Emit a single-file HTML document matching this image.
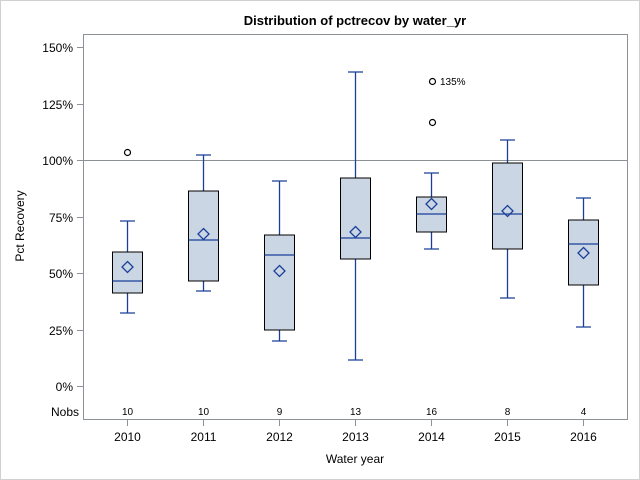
<!DOCTYPE html>
<html><head><meta charset="utf-8"><style>
html,body{margin:0;padding:0;background:#fff}
svg{display:block;font-family:"Liberation Sans",Arial,sans-serif}
</style></head><body>
<svg width="640" height="480" viewBox="0 0 640 480" xmlns="http://www.w3.org/2000/svg">
<rect x="0.5" y="0.5" width="639" height="479" fill="#fff" stroke="#d0d0d0"/>
<text x="355" y="25" font-size="13" font-weight="bold" text-anchor="middle">Distribution of pctrecov by water_yr</text>
<rect x="83.5" y="34.5" width="544" height="385" fill="none" stroke="#8c9196"/>
<line x1="84" y1="160.5" x2="627" y2="160.5" stroke="#8c9196"/>
<g stroke="#8c9196">
<line x1="77" y1="47.5" x2="83" y2="47.5"/><line x1="77" y1="104.5" x2="83" y2="104.5"/>
<line x1="77" y1="160.5" x2="83" y2="160.5"/><line x1="77" y1="217.5" x2="83" y2="217.5"/>
<line x1="77" y1="273.5" x2="83" y2="273.5"/><line x1="77" y1="330.5" x2="83" y2="330.5"/>
<line x1="77" y1="386.5" x2="83" y2="386.5"/>
<line x1="127.5" y1="420" x2="127.5" y2="426"/><line x1="203.5" y1="420" x2="203.5" y2="426"/>
<line x1="279.5" y1="420" x2="279.5" y2="426"/><line x1="355.5" y1="420" x2="355.5" y2="426"/>
<line x1="431.5" y1="420" x2="431.5" y2="426"/><line x1="507.5" y1="420" x2="507.5" y2="426"/>
<line x1="583.5" y1="420" x2="583.5" y2="426"/>
</g>
<g font-size="12" text-anchor="end" fill="#000">
<text x="73" y="52">150%</text><text x="73" y="109">125%</text><text x="73" y="165">100%</text>
<text x="73" y="222">75%</text><text x="73" y="278">50%</text><text x="73" y="335">25%</text>
<text x="73" y="391">0%</text><text x="79" y="416">Nobs</text>
</g>
<g font-size="12" text-anchor="middle">
<text x="127.5" y="441">2010</text><text x="203.5" y="441">2011</text><text x="279.5" y="441">2012</text>
<text x="355.5" y="441">2013</text><text x="431.5" y="441">2014</text><text x="507.5" y="441">2015</text>
<text x="583.5" y="441">2016</text>
</g>
<g font-size="10" text-anchor="middle">
<text x="127.5" y="415">10</text><text x="203.5" y="415">10</text><text x="279.5" y="415">9</text>
<text x="355.5" y="415">13</text><text x="431.5" y="415">16</text><text x="507.5" y="415">8</text>
<text x="583.5" y="415">4</text>
</g>
<text x="355" y="463" font-size="12" text-anchor="middle">Water year</text>
<text transform="translate(24,226) rotate(-90)" font-size="12" text-anchor="middle">Pct Recovery</text>

<g stroke-width="1.3">
<g transform="translate(127.5,0)">
<path d="M0,313V293M0,252V221M-7.5,313H7.5M-7.5,221H7.5" stroke="#1a3f99" fill="none"/>
<rect x="-15" y="252" width="30" height="41" fill="#cbd6e5" stroke="#000" stroke-width="1"/>
<path d="M-15,281H15" stroke="#1a3f99"/>
<polygon points="0,261.5 5.5,267 0,272.5 -5.5,267" fill="none" stroke="#1a3f99"/>
</g>
<g transform="translate(203.5,0)">
<path d="M0,291V281M0,191V155M-7.5,291H7.5M-7.5,155H7.5" stroke="#1a3f99" fill="none"/>
<rect x="-15" y="191" width="30" height="90" fill="#cbd6e5" stroke="#000" stroke-width="1"/>
<path d="M-15,240H15" stroke="#1a3f99"/>
<polygon points="0,228.5 5.5,234 0,239.5 -5.5,234" fill="none" stroke="#1a3f99"/>
</g>
<g transform="translate(279.5,0)">
<path d="M0,341V330M0,235V181M-7.5,341H7.5M-7.5,181H7.5" stroke="#1a3f99" fill="none"/>
<rect x="-15" y="235" width="30" height="95" fill="#cbd6e5" stroke="#000" stroke-width="1"/>
<path d="M-15,255H15" stroke="#1a3f99"/>
<polygon points="0,265.5 5.5,271 0,276.5 -5.5,271" fill="none" stroke="#1a3f99"/>
</g>
<g transform="translate(355.5,0)">
<path d="M0,360V259M0,178V72M-7.5,360H7.5M-7.5,72H7.5" stroke="#1a3f99" fill="none"/>
<rect x="-15" y="178" width="30" height="81" fill="#cbd6e5" stroke="#000" stroke-width="1"/>
<path d="M-15,238H15" stroke="#1a3f99"/>
<polygon points="0,226.5 5.5,232 0,237.5 -5.5,232" fill="none" stroke="#1a3f99"/>
</g>
<g transform="translate(431.5,0)">
<path d="M0,249V232M0,197V173M-7.5,249H7.5M-7.5,173H7.5" stroke="#1a3f99" fill="none"/>
<rect x="-15" y="197" width="30" height="35" fill="#cbd6e5" stroke="#000" stroke-width="1"/>
<path d="M-15,214H15" stroke="#1a3f99"/>
<polygon points="0,198.5 5.5,204 0,209.5 -5.5,204" fill="none" stroke="#1a3f99"/>
</g>
<g transform="translate(507.5,0)">
<path d="M0,298V249M0,163V140M-7.5,298H7.5M-7.5,140H7.5" stroke="#1a3f99" fill="none"/>
<rect x="-15" y="163" width="30" height="86" fill="#cbd6e5" stroke="#000" stroke-width="1"/>
<path d="M-15,214H15" stroke="#1a3f99"/>
<polygon points="0,205.5 5.5,211 0,216.5 -5.5,211" fill="none" stroke="#1a3f99"/>
</g>
<g transform="translate(583.5,0)">
<path d="M0,327V285M0,220V198M-7.5,327H7.5M-7.5,198H7.5" stroke="#1a3f99" fill="none"/>
<rect x="-15" y="220" width="30" height="65" fill="#cbd6e5" stroke="#000" stroke-width="1"/>
<path d="M-15,244H15" stroke="#1a3f99"/>
<polygon points="0,247.5 5.5,253 0,258.5 -5.5,253" fill="none" stroke="#1a3f99"/>
</g>
</g>

<g fill="none" stroke="#000" stroke-width="1.2">
<circle cx="127.5" cy="152.5" r="3"/>
<circle cx="432.5" cy="81.5" r="3"/>
<circle cx="432.5" cy="122.5" r="3"/>
</g>
<text x="440" y="85" font-size="10">135%</text>
</svg>
</body></html>
